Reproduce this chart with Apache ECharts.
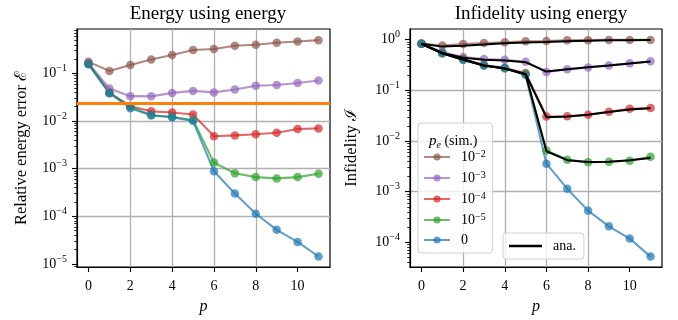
<!DOCTYPE html>
<html><head><meta charset="utf-8">
<script src="https://cdn.jsdelivr.net/npm/echarts@6/dist/echarts.min.js"></script>
<style>html,body{margin:0;padding:0;background:#fff}#c{width:678px;height:320px}</style>
</head><body><div id="c"></div>
<script>
// ---------- data ----------
const p = [0,1,2,3,4,5,6,7,8,9,10,11];
const peNames = ['1e-2','1e-3','1e-4','1e-5','0'];
const peColors = ['#8c564b','#9467bd','#d62728','#2ca02c','#1f77b4'];

// Relative energy error (left panel)
const energy_1e2 = [0.175,0.113,0.150,0.197,0.243,0.31,0.325,0.38,0.40,0.44,0.47,0.50];
const energy_1e3 = [0.165,0.0483,0.0333,0.033,0.039,0.043,0.040,0.046,0.055,0.057,0.063,0.071];
const energy_1e4 = [0.160,0.039,0.0205,0.016,0.0151,0.0137,0.0048,0.0050,0.0053,0.0057,0.0068,0.0070];
const energy_1e5 = [0.158,0.039,0.020,0.0132,0.0122,0.0105,0.00134,0.00080,0.000665,0.000625,0.000665,0.000785];
const energy_0   = [0.155,0.0385,0.0186,0.0132,0.0120,0.0100,0.00088,0.000302,0.000113,0.000052,0.000029,0.0000143];
const energyThreshold = 0.0233;

// Infidelity (right panel), simulated
const infid_1e2 = [0.83,0.77,0.82,0.86,0.89,0.93,0.94,0.97,0.98,0.99,0.99,0.99];
const infid_1e3 = [0.83,0.57,0.455,0.416,0.40,0.368,0.23,0.26,0.284,0.311,0.341,0.374];
const infid_1e4 = [0.83,0.54,0.416,0.316,0.276,0.22,0.0306,0.0307,0.0332,0.038,0.0435,0.0449];
const infid_1e5 = [0.83,0.54,0.40,0.31,0.27,0.21,0.0065,0.0043,0.0038,0.0039,0.0041,0.0049];
const infid_0   = [0.83,0.545,0.40,0.311,0.28,0.20,0.00358,0.00115,0.000424,0.000208,0.000119,0.0000525];
// Infidelity, analytic
const ana_1e2 = [0.83,0.73,0.76,0.80,0.85,0.88,0.90,0.93,0.95,0.97,0.98,0.99];
const ana_1e3 = [0.83,0.55,0.44,0.40,0.39,0.36,0.235,0.26,0.285,0.31,0.34,0.37];
const ana_1e4 = [0.83,0.54,0.41,0.31,0.27,0.21,0.0295,0.0305,0.033,0.0375,0.042,0.0445];
const ana_1e5 = [0.83,0.54,0.40,0.31,0.27,0.205,0.0063,0.0042,0.00386,0.0039,0.0042,0.00464];

// ticks
const xTicks = [0,2,4,6,8,10];
const yTicksLeft = [1e-5,1e-4,1e-3,1e-2,1e-1];
const yTicksRight = [1e-4,1e-3,1e-2,1e-1,1];

// ---------- layout ----------
const FONT = 'Liberation Serif';
const xMin = -0.55, xMax = 11.55;
const yLeftMin = Math.pow(10,-5.065), yLeftMax = Math.pow(10,-0.067);
const yRightMin = Math.pow(10,-4.485), yRightMax = Math.pow(10,0.211);
const G = [{left:77, top:29, width:253, height:238},{left:410, top:29, width:252, height:238}];

function minorTicks(lo, hi){
  const out=[];
  for(let k=-7;k<=1;k++) for(let m=2;m<=9;m++){const v=m*Math.pow(10,k); if(v>lo&&v<hi) out.push(v);}
  return out;
}
function pow10Label(v){
  const e = Math.round(Math.log10(v));
  return '{b|10}{s|' + (e<0?'\u2212':'') + Math.abs(e) + '}';
}
const supRich = {
  b:{fontFamily:FONT,fontSize:14,color:'#000',lineHeight:20},
  s:{fontFamily:FONT,fontSize:10,color:'#000',lineHeight:10,verticalAlign:'top'}
};

function xAxis(gi){
  return {type:'value', gridIndex:gi, min:xMin, max:xMax,
    axisLine:{show:true,onZero:false,lineStyle:{color:'#000',width:1.2}},
    axisTick:{show:true,length:5,customValues:xTicks,lineStyle:{color:'#000',width:1.1}},
    axisLabel:{customValues:xTicks,color:'#000',fontFamily:FONT,fontSize:14,margin:12},
    splitLine:{show:true,showMinLine:false,showMaxLine:false,lineStyle:{color:'#b0b0b0',width:1.3}},
    name:'p', nameLocation:'middle', nameGap:32,
    nameTextStyle:{fontFamily:FONT,fontStyle:'italic',fontSize:16,color:'#000'}};
}
function yAxis(gi,lo,hi,ticks,name,gap){
  return {type:'log', logBase:10, gridIndex:gi, min:lo, max:hi, position:'left',
    axisLine:{show:true,onZero:false,lineStyle:{color:'#000',width:1.2}},
    axisTick:{show:true,length:5,customValues:ticks,lineStyle:{color:'#000',width:1.1}},
    axisLabel:{customValues:ticks,formatter:pow10Label,rich:supRich,margin:10},
    splitLine:{show:true,showMinLine:false,showMaxLine:false,lineStyle:{color:'#b0b0b0',width:1.3}},
    name:name, nameLocation:'middle', nameGap:gap,
    nameTextStyle:{fontFamily:FONT,fontSize:16.5,color:'#000'}};
}
function yMinor(gi,lo,hi){
  return {type:'log', logBase:10, gridIndex:gi, min:lo, max:hi, position:'left',
    axisLine:{show:false,onZero:false}, axisLabel:{show:false}, splitLine:{show:false},
    axisTick:{show:true,length:2.8,customValues:minorTicks(lo,hi),lineStyle:{color:'#000',width:0.8}}};
}

function sim(name, data, color, gi){
  return {type:'line', name:name, xAxisIndex:gi, yAxisIndex:gi, color:color,
    data:p.map((x,i)=>[x,data[i]]), symbol:'circle', symbolSize:8.5, showSymbol:true,
    lineStyle:{width:2.1,opacity:0.7}, itemStyle:{opacity:0.7}, z:3, silent:true};
}
function ana(data){
  return {type:'line', name:'ana.', xAxisIndex:1, yAxisIndex:1, color:'#000',
    data:p.map((x,i)=>[x,data[i]]), symbol:'none', lineStyle:{width:2,color:'#000'}, z:5, silent:true};
}

const leftSeries = [energy_1e2,energy_1e3,energy_1e4,energy_1e5,energy_0].map((d,i)=>sim(peNames[i],d,peColors[i],0));
leftSeries[0].markLine = {silent:true, symbol:['none','none'], precision:6, label:{show:false},
  lineStyle:{color:'#ff7f0e',width:3,type:'solid',opacity:1}, data:[{yAxis:energyThreshold}]};
const rightSeries = [infid_1e2,infid_1e3,infid_1e4,infid_1e5,infid_0].map((d,i)=>sim(peNames[i],d,peColors[i],1));
const anaSeries = [ana_1e2,ana_1e3,ana_1e4,ana_1e5].map(ana);

const legendRich = {
  b:{fontFamily:FONT,fontSize:14,color:'#000',lineHeight:16},
  s:{fontFamily:FONT,fontSize:10,color:'#000',lineHeight:10,verticalAlign:'top'}
};

const option = {
  animation:false,
  backgroundColor:'#fff',
  title:[
    {text:'Energy using energy', left:203, textAlign:'center', top:0,
     textStyle:{fontFamily:FONT,fontSize:19,fontWeight:'normal',color:'#000'}},
    {text:'Infidelity using energy', left:536, textAlign:'center', top:0,
     textStyle:{fontFamily:FONT,fontSize:19,fontWeight:'normal',color:'#000'}},
    {text:'{i|p}{sub|e}{n| (sim.)}', left:424, top:127, z:10,
     textStyle:{fontWeight:'normal',rich:{
       i:{fontFamily:FONT,fontStyle:'italic',fontWeight:'normal',fontSize:15,color:'#000',lineHeight:18},
       sub:{fontFamily:FONT,fontStyle:'italic',fontWeight:'normal',fontSize:10,color:'#000',lineHeight:10,verticalAlign:'bottom'},
       n:{fontFamily:FONT,fontWeight:'normal',fontSize:14,color:'#000',lineHeight:18}}}}
  ],
  grid:G.map(g=>Object.assign({show:true,borderColor:'#000',borderWidth:1.2,backgroundColor:'transparent',containLabel:false},g)),
  xAxis:[xAxis(0),xAxis(1)],
  yAxis:[
    yAxis(0,yLeftMin,yLeftMax,yTicksLeft,'Relative energy error \u2130',47),
    yAxis(1,yRightMin,yRightMax,yTicksRight,'Infidelity \u2110',50),
    yMinor(0,yLeftMin,yLeftMax),
    yMinor(1,yRightMin,yRightMax)
  ],
  legend:[
    {data:peNames, orient:'vertical', left:418, top:123, padding:[26,7,6,5], itemGap:6,
     itemWidth:26, itemHeight:9, selectedMode:false,
     formatter:n=> n==='0' ? '{b|0}' : '{b|10}{s|\u2212'+n.slice(3)+'}',
     textStyle:{rich:legendRich,padding:[0,0,0,6]},
     backgroundColor:'rgba(255,255,255,0.8)', borderColor:'#d0d0d0', borderWidth:1, borderRadius:3},
    {data:[{name:'ana.',icon:'rect'}], orient:'vertical', left:503, top:233, padding:[5,8,5,6],
     itemWidth:33, itemHeight:2.5, selectedMode:false,
     textStyle:{fontFamily:FONT,fontSize:14,color:'#000',lineHeight:16,padding:[0,0,0,6]},
     backgroundColor:'rgba(255,255,255,0.8)', borderColor:'#d0d0d0', borderWidth:1, borderRadius:3}
  ],
  series:[...leftSeries, ...rightSeries, ...anaSeries]
};
const chart = echarts.init(document.getElementById('c'),null,{renderer:'canvas'});
chart.setOption(option);
</script></body></html>
